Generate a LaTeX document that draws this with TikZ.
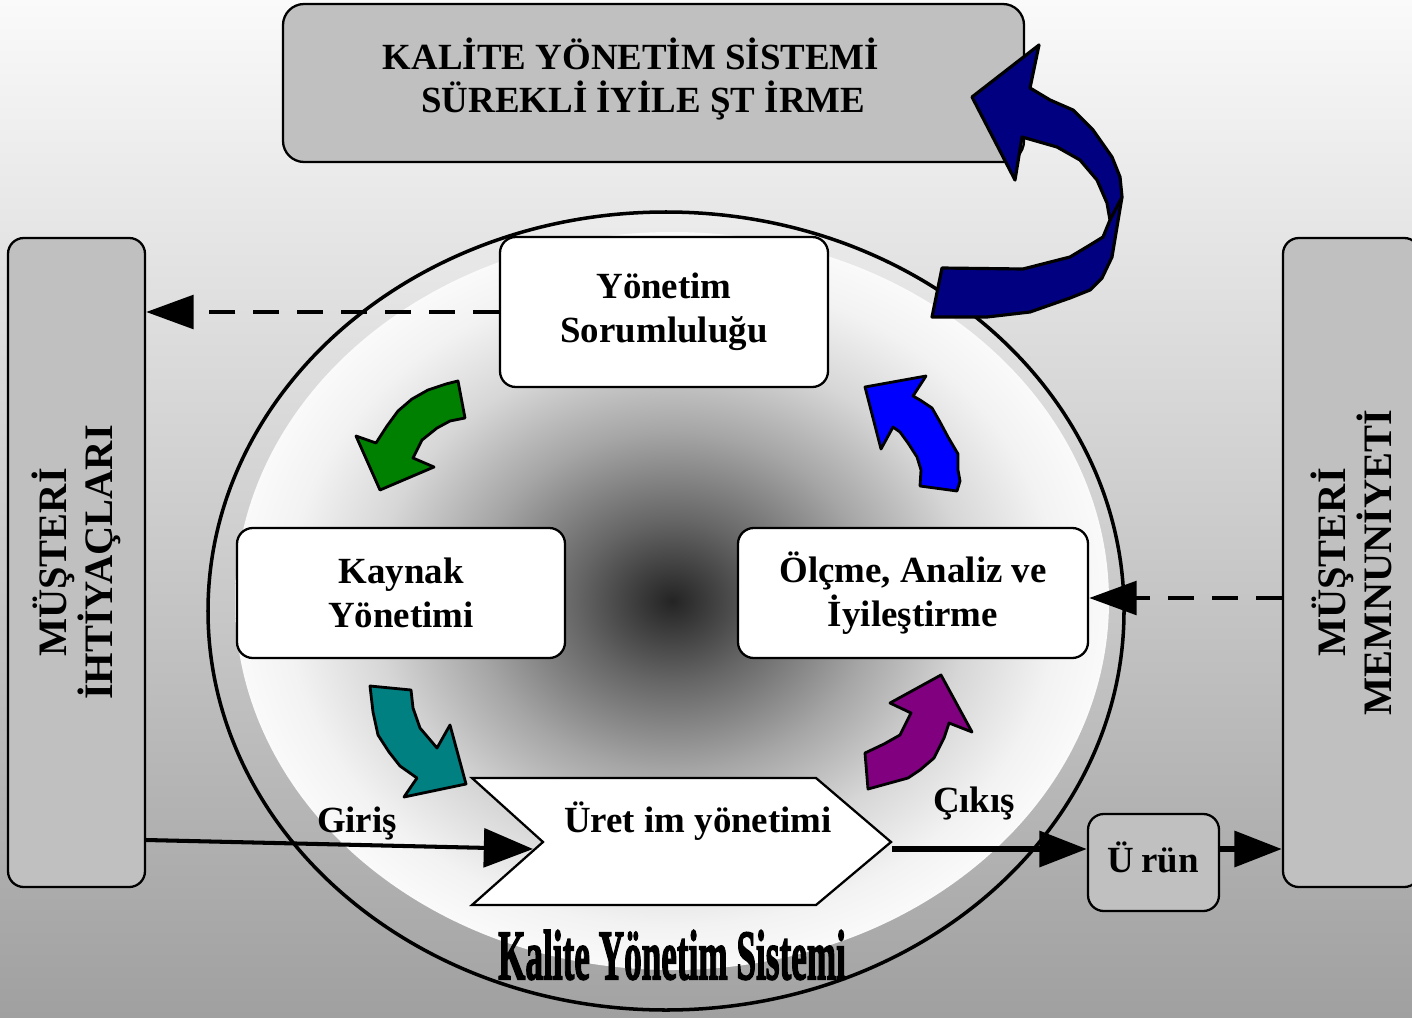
\documentclass[tikz,border=0pt]{standalone}
\usepackage{fontspec}
\setmainfont{Liberation Serif}
\newfontfamily\kmsfont[FakeBold=2.5]{Liberation Serif Bold}
\usetikzlibrary{arrows.meta}
\definecolor{boxgray}{RGB}{192,192,192}
\definecolor{navyarrow}{RGB}{0,0,128}
\definecolor{greenarrow}{RGB}{0,128,0}
\definecolor{bluearrow}{RGB}{0,0,255}
\definecolor{tealarrow}{RGB}{0,128,128}
\definecolor{purplearrow}{RGB}{128,0,128}
\definecolor{bgtop}{RGB}{250,250,250}
\definecolor{bgbottom}{RGB}{160,160,160}
\pgfdeclareradialshading{kmsglow}{\pgfpoint{0bp}{0bp}}{color(0bp)=(black!86); color(5.5bp)=(black!60); color(11.5bp)=(black!35); color(17bp)=(black!16); color(22bp)=(black!5); color(25bp)=(black!2); color(50bp)=(black!2)}
\newcommand\pu{0.02cm}
\begin{document}
\begin{tikzpicture}[x=0.02cm,y=-0.02cm,
  graybox/.style={draw=black, line width=1.3pt, fill=boxgray, rounded corners=9pt, inner sep=0pt},
  whitebox/.style={draw=black, line width=1.3pt, fill=white, rounded corners=9pt, inner sep=0pt},
  lbl/.style={font=\fontsize{21}{25}\selectfont\bfseries, align=center},
  sidelbl/.style={font=\fontsize{23}{26}\selectfont\bfseries, align=center},
  dashlink/.style={line width=2.6pt, dash pattern=on 15pt off 10pt, -{Triangle[length=27pt,width=19pt]}},
  solidlink/.style={line width=2.3pt, -{Triangle[length=28pt,width=22pt]}},
  heavylink/.style={line width=3.4pt, -{Triangle[length=27pt,width=20pt]}},
  bendarrow/.style={draw=black, line width=1.6pt, line join=round}
]
\useasboundingbox (0,0) rectangle (1412,1017);
\clip (0,0) rectangle (1412,1017);
% background
\shade[top color=bgtop, bottom color=bgbottom] (0,0) rectangle (1412,1017);
% system circle
\shade[top color=gray!15, bottom color=gray!72] (666,611) ellipse [x radius=458, y radius=399];
\shade[shading=kmsglow] (672,601) ellipse [x radius=437, y radius=369];
\draw[line width=2pt] (666,611) ellipse [x radius=458, y radius=399];
% top box
\node[graybox, minimum width=741*\pu, minimum height=158*\pu, rounded corners=12pt] (kaizen) at (653.5,83) {};
\node[lbl] (kaizenlbl) at (631,79) {KALİTE YÖNETİM SİSTEMİ\\\hspace*{14pt}SÜREKLİ İYİLE ŞT İRME};
% side boxes
\node[graybox, sidelbl, rotate=90, minimum width=649*\pu, minimum height=137*\pu] (needs) at (76.5,562.5)
  {MÜŞTERİ\\İHTİYAÇLARI};
\node[graybox, sidelbl, rotate=90, minimum width=649*\pu, minimum height=137*\pu] (satis) at (1351.5,562.5)
  {MÜŞTERİ\\MEMNUNİYETİ};
% inner boxes
\node[whitebox, lbl, minimum width=328*\pu, minimum height=150*\pu] (resp) at (664,312)
  {Yönetim\\Sorumluluğu};
\node[whitebox, lbl, minimum width=328*\pu, minimum height=130*\pu] (res) at (401,593)
  {Kaynak\\Yönetimi};
\node[whitebox, lbl, minimum width=350*\pu, minimum height=130*\pu] (meas) at (913,593)
  {Ölçme, Analiz ve\\İyileştirme};
% production chevron
\draw[line width=1.3pt, fill=white, line join=miter] (472,778) -- (816,778) -- (891,842) -- (816,905) -- (472,905) -- (543,842) -- cycle;
\coordinate (prodIn) at (533,849);
\coordinate (prodOut) at (892,849);
\node[lbl] (prod) at (698,821) {Üret im yönetimi};
% product box
\node[graybox, lbl, minimum width=131*\pu, minimum height=97*\pu] (urun) at (1153.5,862.5) {};
\node[lbl] (urunlbl) at (1153,857) {Ü\kern4pt rün};
% connectors
\draw[dashlink] (resp.west) -- (needs.south |- resp.west);
\draw[dashlink] (satis.north |- 0,598) -- (meas.east |- 0,598);
\draw[solidlink] (needs.south |- 0,840) -- (prodIn);
\draw[heavylink] (prodOut) -- (urun.west |- prodOut);
\draw[heavylink] (urun.east |- prodOut) -- (satis.north |- prodOut);
\node[lbl] (giris) at (357,823) {Giriş};
\node[lbl] (cikis) at (974,803) {Çıkış};
% cycle arrows
\draw[bendarrow, fill=greenarrow] (458,381) -- (465,418) -- (450,421) -- (437,428) -- (422,440) -- (416,452) -- (413,458) -- (434,467) -- (380,490) -- (356,436) -- (376,443) -- (387,426) -- (398,411) -- (412,399) -- (428,390) -- (446,384) -- cycle;
\draw[bendarrow, fill=bluearrow] (926,376) -- (913,396) -- (920,400) -- (932,408) -- (940,422) -- (948,437) -- (958,454) -- (958,470) -- (960,481) -- (957,491) -- (920,486) -- (921,470) -- (917,457) -- (908,443) -- (900,432) -- (893,427) -- (881,449) -- (865,387) -- cycle;
\draw[bendarrow, fill=tealarrow] (370,686) -- (411,690) -- (413,708) -- (420,728) -- (437,748) -- (450,725) -- (466,784) -- (404,797) -- (417,778) -- (400,766) -- (389,752) -- (378,735) -- (373,712) -- cycle;
\draw[bendarrow, fill=purplearrow] (868,789) -- (865,753) -- (884,744) -- (900,735) -- (911,713) -- (890,703) -- (941,675) -- (972,732) -- (949,723) -- (944,738) -- (934,758) -- (920,770) -- (908,778) -- cycle;
% improvement arrow
\draw[bendarrow, line width=1.8pt, fill=navyarrow] (1039,45) -- (1030,88) -- (1050,100) -- (1073,110) -- (1093,130) -- (1112,157) -- (1120,177) -- (1122,197) -- (1117,227) -- (1112,257) -- (1102,278) -- (1090,290) -- (1070,298) -- (1030,312) -- (987,317) -- (932,317) -- (942,268) -- (1023,269) -- (1070,257) -- (1090,245) -- (1103,237) -- (1110,220) -- (1107,203) -- (1097,180) -- (1080,160) -- (1057,147) -- (1022,137) -- (1015,180) -- (972,97) -- cycle;
\draw[line width=1.8pt] (1110,220) -- (1122,197);
% system title
\node (kms) at (672,955) {\scalebox{0.77}[1.55]{\fontsize{26}{30}\selectfont\kmsfont Kalite Yönetim Sistemi}};
\end{tikzpicture}
\end{document}
